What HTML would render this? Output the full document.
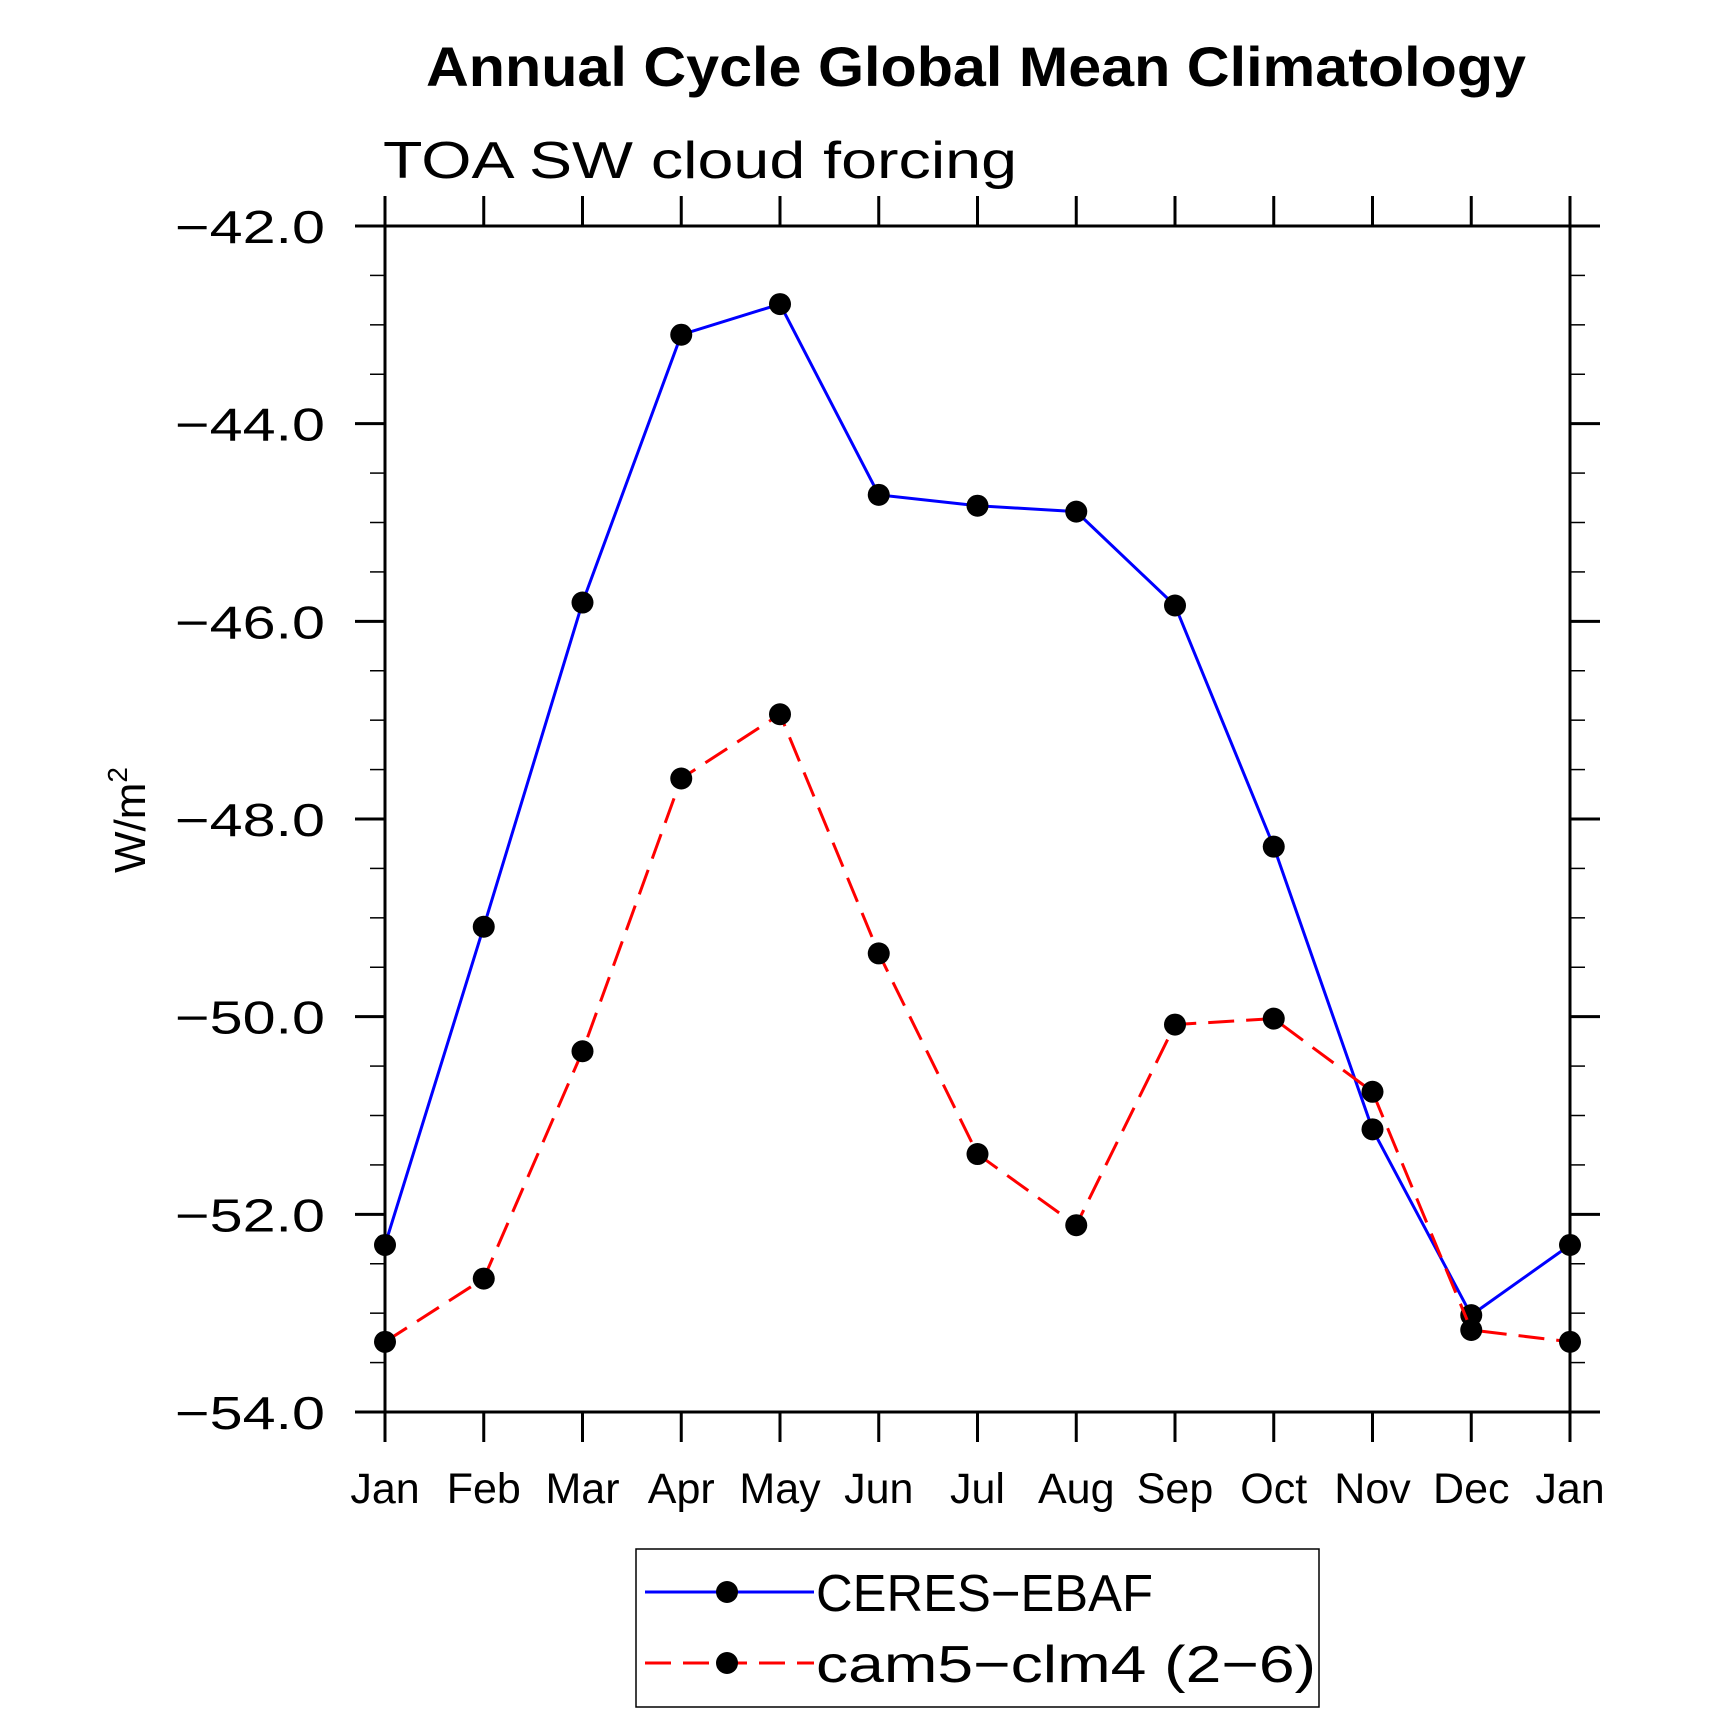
<!DOCTYPE html>
<html><head><meta charset="utf-8"><style>
html,body{margin:0;padding:0;background:#fff;}
svg{display:block;font-family:"Liberation Sans",sans-serif;}
</style></head><body>
<svg id="chart" width="1710" height="1713" viewBox="0 0 1710 1713" xmlns="http://www.w3.org/2000/svg">
<text x="976" y="86" text-anchor="middle" font-size="56" font-weight="bold" textLength="1100" lengthAdjust="spacingAndGlyphs">Annual Cycle Global Mean Climatology</text>
<text x="383" y="178" font-size="52" textLength="634" lengthAdjust="spacingAndGlyphs">TOA SW cloud forcing</text>
<text transform="translate(145,820) rotate(-90)" text-anchor="middle" font-size="44">W/m<tspan dy="-18" font-size="28">2</tspan></text>
<g id="axes"></g>
<g id="series"></g>
<g>
<rect x="636" y="1549" width="683" height="158" fill="none" stroke="#000" stroke-width="1.5"/>
<g>
<line x1="645" y1="1592" x2="814" y2="1592" stroke="#0000ff" stroke-width="3"/>
<circle cx="727" cy="1592" r="11" fill="#000"/>
<text x="816" y="1611" font-size="52" textLength="337" lengthAdjust="spacingAndGlyphs">CERES−EBAF</text>
</g>
<g>
<line x1="645" y1="1663" x2="814" y2="1663" stroke="#ff0000" stroke-width="3" stroke-dasharray="26,12"/>
<circle cx="727" cy="1663" r="11" fill="#000"/>
<text x="816" y="1682" font-size="52" textLength="500" lengthAdjust="spacingAndGlyphs">cam5−clm4 (2−6)</text>
</g>
</g>
</svg>
<script>
const months = ["Jan","Feb","Mar","Apr","May","Jun","Jul","Aug","Sep","Oct","Nov","Dec","Jan"];
const yTicks = [-42,-44,-46,-48,-50,-52,-54];
const yTickLabels = ["−42.0","−44.0","−46.0","−48.0","−50.0","−52.0","−54.0"];
const ceres = [-52.31,-49.09,-45.81,-43.10,-42.79,-44.72,-44.83,-44.89,-45.84,-48.28,-51.14,-53.02,-52.31];
const cam5 = [-53.29,-52.65,-50.35,-47.59,-46.94,-49.36,-51.39,-52.11,-50.08,-50.02,-50.76,-53.17,-53.29];

const L=385,R=1570,T=226,B=1412,yMax=-42,yMin=-54;
const NS="http://www.w3.org/2000/svg";
function xs(i){return L+(R-L)*i/(months.length-1);}
function ys(v){return T+(yMax-v)/(yMax-yMin)*(B-T);}
function mk(tag,attrs,parent){const e=document.createElementNS(NS,tag);for(const k in attrs)e.setAttribute(k,attrs[k]);parent.appendChild(e);return e;}
const axes=document.getElementById('axes');
const frame=mk('rect',{x:L,y:T,width:R-L,height:B-T,fill:'none',stroke:'#000','stroke-width':3},axes);


for(let v=yMax;v>=yMin-1e-9;v-=0.5){
  const y=ys(v);const major=Math.abs(v-Math.round(v/2)*2)<1e-6;
  const len=major?30:15;
  mk('line',{x1:L-len,y1:y,x2:L,y2:y,stroke:'#000','stroke-width':major?3:1.5},axes);
  mk('line',{x1:R,y1:y,x2:R+len,y2:y,stroke:'#000','stroke-width':major?3:1.5},axes);
}
yTicks.forEach((v,i)=>{
  const t=mk('text',{x:175,y:ys(v)+17,'font-size':46,textLength:150,lengthAdjust:'spacingAndGlyphs'},axes);
  t.textContent=yTickLabels[i];
  
  
});
months.forEach((m,i)=>{
  const x=xs(i);
  mk('line',{x1:x,y1:B,x2:x,y2:B+30,stroke:'#000','stroke-width':3},axes);
  mk('line',{x1:x,y1:T-30,x2:x,y2:T,stroke:'#000','stroke-width':3},axes);
  const t=mk('text',{x:x,y:1503,'text-anchor':'middle','font-size':43},axes);
  t.textContent=m;
  
  
});
const ser=document.getElementById('series');
function draw(vals,color,dash,name){
  const g=mk('g',{},ser);
  
  
  const pts=vals.map((v,i)=>xs(i)+','+ys(v)).join(' ');
  const attrs={points:pts,fill:'none',stroke:color,'stroke-width':3};
  if(dash)attrs['stroke-dasharray']=dash;
  mk('polyline',attrs,g);
  vals.forEach((v,i)=>{
    const c=mk('circle',{cx:xs(i),cy:ys(v),r:11,fill:'#000'},g);
    
    
  });
}
draw(ceres,'#0000ff',null,'ceres-ebaf-series');
draw(cam5,'#ff0000','26,12','cam5-clm4-series');
</script>
</body></html>
